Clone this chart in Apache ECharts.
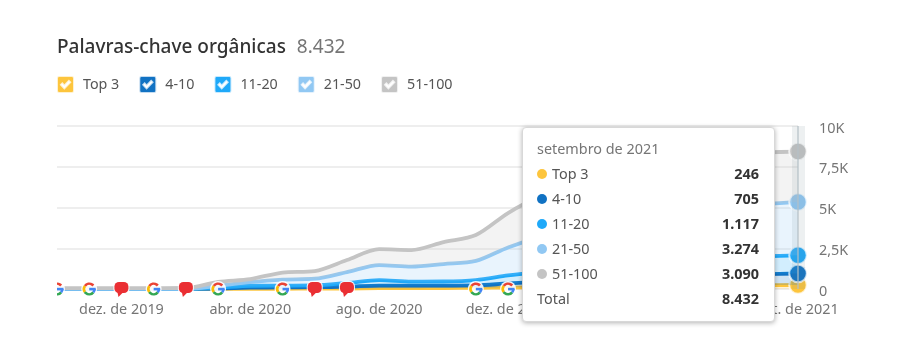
<!DOCTYPE html>
<html><head><meta charset="utf-8">
<style>html,body{margin:0;padding:0;background:#fff}#c{width:900px;height:359px}</style>
<script src="https://cdn.jsdelivr.net/npm/echarts@6/dist/echarts.min.js"></script>
</head><body><div id="c"></div>
<script>
const months = ['out. de 2019','nov. de 2019','dez. de 2019','jan. de 2020','fev. de 2020','mar. de 2020','abr. de 2020','mai. de 2020','jun. de 2020','jul. de 2020','ago. de 2020','set. de 2020','out. de 2020','nov. de 2020','dez. de 2020','jan. de 2021','fev. de 2021','mar. de 2021','abr. de 2021','mai. de 2021','jun. de 2021','jul. de 2021','ago. de 2021','set. de 2021'];
const labelMonths = ['dez. de 2019','abr. de 2020','ago. de 2020','dez. de 2020','abr. de 2021','set. de 2021'];
const top3   = [2,2,2,2,2,5,10,15,20,30,50,50,60,70,90,100,120,140,160,180,200,220,240,246];
const r4to10 = [2,2,2,2,2,25,70,85,90,110,160,160,150,150,250,330,400,460,510,560,610,640,670,705];
const r11to20= [2,2,2,2,2,50,120,110,110,230,340,240,250,330,490,620,730,800,880,960,1010,1060,1100,1117];
const r21to50= [2,2,2,2,4,120,230,370,410,670,920,920,1070,1170,1720,2150,2450,2700,2850,3000,3130,3180,3210,3274];
const r51to100=[42,42,42,42,50,230,180,430,470,740,980,1020,1350,1590,2110,2500,2800,2900,3000,3100,3150,3200,3160,3090];
const seriesNames = ['Top 3','4-10','11-20','21-50','51-100'];
const seriesColors = ['#fdc53d','#1172c3','#1fa9f9','#91c8f3','#c4c4c4'];
const seriesValues = [top3,r4to10,r11to20,r21to50,r51to100];
const yTicks = {0:'0',2500:'2,5K',5000:'5K',7500:'7,5K',10000:'10K'};
const googleMonths = ['out. de 2019','nov. de 2019','jan. de 2020','mar. de 2020','mai. de 2020','nov. de 2020','dez. de 2020'];
const noteMonths = ['dez. de 2019','fev. de 2020','jun. de 2020','jul. de 2020'];
const selectedMonth = 'set. de 2021';
const selectedTitle = 'setembro de 2021';
const titleText = 'Palavras-chave orgânicas';
const totalText = '8.432';

const FONT = '"Noto Sans","Open Sans",sans-serif';
const fmt = v => String(v).replace(/\B(?=(\d{3})+$)/g,'.');
const checkIcon = 'path://M2 0H14A2 2 0 0 1 16 2V14A2 2 0 0 1 14 16H2A2 2 0 0 1 0 14V2A2 2 0 0 1 2 0Z M3.8 8.2L6.9 11.6L12.4 5.8L11.2 4.6L6.9 9.2L5 7Z';
const selIdx = months.indexOf(selectedMonth);
const chart = echarts.init(document.getElementById('c'),null,{renderer:'canvas'});

function renderGoogle(params, api){
  const p = api.coord([api.value(0),0]);
  const cs = params.coordSys;
  const x=p[0], y=p[1], r=5.3, lw=2.6;
  const arc=(s,e,c)=>({type:'arc',shape:{cx:x,cy:y,r:r,startAngle:s,endAngle:e,clockwise:true},style:{fill:null,stroke:c,lineWidth:lw}});
  const d=Math.PI/180;
  return {type:'group',clipPath:{type:'rect',shape:{x:cs.x,y:cs.y-10,width:cs.width+30,height:cs.height+30}},children:[
    {type:'circle',shape:{cx:x,cy:y,r:8},style:{fill:'rgba(255,255,255,0.9)'}},
    arc(215*d,320*d,'#ea4335'),
    arc(145*d,215*d,'#fbbc05'),
    arc(40*d,145*d,'#34a853'),
    arc(0,40*d,'#4285f4'),
    {type:'rect',shape:{x:x,y:y-1.2,width:r+1.2,height:2.6},style:{fill:'#4285f4'}}
  ]};
}
function renderNote(params, api){
  const p = api.coord([api.value(0),0]);
  const x=p[0], y=p[1]-1;
  return {type:'group',children:[
    {type:'rect',shape:{x:x-8,y:y-7,width:16,height:13,r:5},style:{fill:'rgba(255,255,255,0.9)'}},
    {type:'rect',shape:{x:x-7,y:y-6,width:14,height:11,r:4.5},style:{fill:'#ea2f33'}},
    {type:'polygon',shape:{points:[[x-4,y+4],[x+2,y+4],[x-3,y+9]]},style:{fill:'#ea2f33'}}
  ]};
}
function renderBand(params, api){
  const p = api.coord([api.value(0),0]);
  const cs = params.coordSys;
  return {type:'group',children:[
    {type:'rect',shape:{x:p[0]-6,y:cs.y,width:13,height:cs.height},style:{fill:'rgba(110,130,140,0.12)'}},
    {type:'line',shape:{x1:p[0],y1:cs.y,x2:p[0],y2:cs.y+cs.height},style:{stroke:'#b4c0c6',lineWidth:1.2}}
  ]};
}
const lineSeries = seriesNames.map((n,i)=>({
  name:n,type:'line',stack:'k',data:seriesValues[i],smooth:0.3,
  lineStyle:{width:3.8,color:seriesColors[i]},
  itemStyle:{color:seriesColors[i],borderColor:'rgba(255,255,255,0.75)',borderWidth:2},
  areaStyle:{color:seriesColors[i],opacity:0.2},
  showSymbol:true,showAllSymbol:true,symbol:'circle',
  symbolSize:(v,p)=>p.dataIndex===selIdx?16:0,
  emphasis:{disabled:true},
  z:2+i*0.01
}));
chart.setOption({
  animation:false,
  textStyle:{fontFamily:FONT},
  title:{left:57,top:38,padding:0,text:'{a|'+titleText+'}{g|}{b|'+totalText+'}',
    textStyle:{rich:{a:{fontFamily:FONT,fontSize:19,fontWeight:500,color:'#333'},g:{width:11},b:{fontFamily:FONT,fontSize:19,fontWeight:400,color:'#757575'}}}},
  legend:{left:56,top:75,padding:0,itemWidth:17,itemHeight:17,itemGap:19,
    data:seriesNames.map(n=>({name:n,icon:checkIcon})),
    textStyle:{fontFamily:FONT,fontSize:14.3,color:'#555',padding:[0,0,0,4]},
    selectedMode:false},
  grid:{left:57,right:102,top:126,bottom:70,containLabel:false},
  tooltip:{trigger:'axis',alwaysShowContent:true,transitionDuration:0,showDelay:0,hideDelay:0,
    axisPointer:{type:'none'},padding:0,backgroundColor:'#fff',borderColor:'#d8d8d8',borderWidth:1,
    extraCssText:'width:253px;height:195px;box-sizing:border-box;border-radius:4px;box-shadow:0 1px 5px rgba(0,0,0,.3);',
    position:()=>[522,127],
    formatter:()=>{
      const row=(dot,l,v)=>'<div style="position:absolute;left:0;right:0;top:'+dot.top+'px;height:20px;line-height:20px;font-size:14.4px;color:#555">'+
        (dot.c?'<span style="position:absolute;left:14px;top:5px;width:10px;height:10px;border-radius:5px;background:'+dot.c+'"></span>':'')+
        '<span style="position:absolute;left:'+(dot.c?29:14)+'px">'+l+'</span>'+
        '<b style="position:absolute;right:15px;color:#333;font-weight:700">'+v+'</b></div>';
      let h='<div style="position:relative;width:251px;height:193px;font-family:'+FONT.replace(/"/g,"'")+'">';
      h+='<div style="position:absolute;left:14px;top:11px;height:20px;line-height:20px;font-size:14.4px;color:#757575">'+selectedTitle+'</div>';
      seriesNames.forEach((n,i)=>{h+=row({c:seriesColors[i],top:36+25*i},n,fmt(seriesValues[i][selIdx]));});
      h+=row({top:161},'Total',totalText);
      return h+'</div>';
    }},
  xAxis:{type:'category',data:months,boundaryGap:false,
    axisLine:{show:false},axisTick:{show:false},
    axisLabel:{interval:(i,v)=>labelMonths.includes(v),color:'#757575',fontSize:14.4,margin:14,hideOverlap:false}},
  yAxis:{type:'value',position:'right',min:0,max:10000,interval:2500,
    axisLine:{show:false},axisTick:{show:false},
    axisLabel:{color:'#757575',fontSize:14.4,margin:21,align:'left',verticalAlign:'top',lineHeight:5,formatter:v=>yTicks[v]},
    splitLine:{lineStyle:{color:'#e8e8e8',width:1.5}}},
  series:[...lineSeries,
    {name:'band',type:'custom',renderItem:renderBand,data:[[selectedMonth,0]],z:3,silent:true,tooltip:{show:false}},
    {name:'google',type:'custom',renderItem:renderGoogle,data:googleMonths.map(m=>[m,0]),z:4,silent:true,clip:false,tooltip:{show:false}},
    {name:'notes',type:'custom',renderItem:renderNote,data:noteMonths.map(m=>[m,0]),z:4,silent:true,clip:false,tooltip:{show:false}}
  ]
});
chart.dispatchAction({type:'showTip',seriesIndex:0,dataIndex:selIdx});
</script></body></html>
